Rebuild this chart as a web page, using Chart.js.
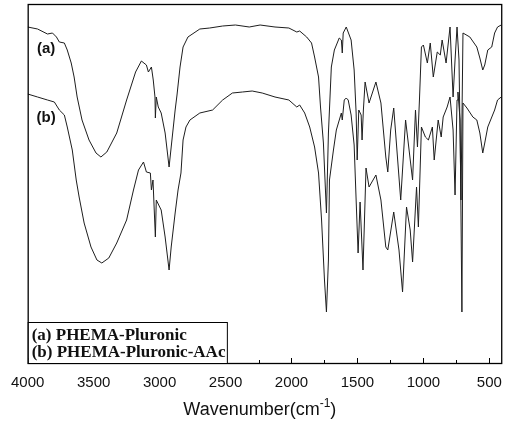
<!DOCTYPE html>
<html>
<head>
    <title>FTIR PHEMA-Pluronic</title>
    <script src="https://cdn.jsdelivr.net/npm/chart.js"></script>
    <style>
        html, body { margin: 0; padding: 0; background: #fff; }
        .chart-box { width: 513px; height: 423px; position: relative; }
    </style>
</head>
<body>
    <div class="chart-box">
        <canvas id="irChart"></canvas>
    </div>

    <script>
        // spectrum (a) PHEMA-Pluronic : wavenumber / transmittance (arbitrary units)
        const wnA = [4000, 3925, 3850, 3812, 3782, 3760, 3722, 3700, 3670, 3648, 3625, 3588, 3535, 3482, 3445, 3400, 3325, 3250, 3182, 3138,
            3100, 3085, 3062, 3048, 3035, 3032, 3025, 3010, 2988, 2958, 2928, 2912, 2882, 2868, 2845, 2822, 2785, 2695, 2620, 2522,
            2425, 2320, 2238, 2125, 2020, 1960, 1938, 1885, 1848, 1825, 1795, 1780, 1758, 1735, 1720, 1698, 1675, 1638, 1622, 1615,
            1608, 1585, 1548, 1525, 1510, 1502, 1490, 1472, 1465, 1455, 1442, 1412, 1360, 1322, 1285, 1270, 1248, 1225, 1172, 1135,
            1082, 1060, 1045, 1030, 1015, 1000, 970, 948, 925, 895, 872, 858, 828, 798, 775, 760, 745, 730, 715, 700,
            648, 595, 572, 550, 535, 512, 482, 460, 438, 410];
        const tA = [336, 334, 329, 330, 326, 321, 320, 313, 300, 286, 266, 243, 223, 210, 206, 211, 230, 263, 291, 302,
            298, 291, 296, 283, 266, 245, 266, 256, 250, 230, 196, 216, 253, 268, 296, 316, 326, 334, 335, 337,
            338, 336, 338, 336, 335, 331, 332, 326, 320, 306, 286, 256, 220, 150, 230, 296, 313, 325, 323, 310,
            330, 336, 323, 293, 250, 203, 253, 248, 223, 253, 281, 260, 281, 260, 206, 191, 233, 255, 163, 243,
            183, 253, 216, 263, 316, 318, 300, 320, 286, 311, 308, 323, 300, 336, 266, 303, 336, 303, 163, 330,
            326, 316, 305, 293, 298, 313, 316, 330, 336, 338];

        // spectrum (b) PHEMA-Pluronic-AAc
        const wnB = [4000, 3925, 3850, 3798, 3760, 3722, 3700, 3662, 3632, 3610, 3572, 3520, 3475, 3438, 3385, 3325, 3250, 3198, 3160, 3122,
            3100, 3070, 3062, 3050, 3032, 3025, 2988, 2958, 2928, 2912, 2882, 2860, 2838, 2822, 2800, 2770, 2695, 2598, 2522, 2448,
            2372, 2298, 2222, 2125, 2020, 1960, 1938, 1900, 1862, 1825, 1795, 1772, 1750, 1735, 1720, 1712, 1682, 1660, 1622, 1615,
            1600, 1585, 1570, 1548, 1525, 1510, 1495, 1480, 1458, 1435, 1412, 1360, 1322, 1285, 1270, 1225, 1185, 1158, 1128, 1100,
            1082, 1052, 1038, 1015, 985, 962, 932, 918, 888, 865, 850, 820, 798, 775, 760, 745, 738, 722, 708, 700,
            670, 625, 595, 572, 550, 535, 512, 460, 438, 410];
        const tB = [269, 266, 263, 261, 253, 248, 236, 213, 183, 166, 140, 116, 103, 100, 105, 120, 143, 173, 193, 201,
            191, 190, 173, 183, 126, 163, 153, 126, 93, 116, 150, 173, 190, 223, 236, 243, 250, 253, 263, 270,
            271, 272, 270, 266, 263, 256, 258, 250, 236, 216, 190, 143, 83, 51, 103, 183, 213, 233, 250, 243,
            263, 265, 263, 248, 218, 163, 110, 161, 93, 195, 176, 188, 163, 116, 113, 151, 113, 71, 156, 133,
            101, 176, 136, 236, 226, 223, 236, 203, 243, 226, 246, 256, 266, 233, 168, 263, 271, 243, 51, 260,
            255, 246, 243, 230, 210, 220, 236, 253, 263, 266];

        // axis ticks and texts
        const tickValues = [4000, 3500, 3000, 2500, 2000, 1500, 1000, 500];
        const minorTicks = [3750, 3250, 2750, 2250, 1750, 1250, 750];
        const legendLines = ['(a) PHEMA-Pluronic', '(b) PHEMA-Pluronic-AAc'];
        const curveTags = ['(a)', '(b)'];

        const inkColor = '#1e1e1e';

        // frame, inward ticks, curve tags, boxed legend and axis title
        const decorPlugin = {
            id: 'decor',
            afterDraw(chart) {
                const ctx = chart.ctx;
                const area = chart.chartArea;
                const xs = chart.scales.x;
                const ys = chart.scales.y;
                ctx.save();

                // frame
                ctx.strokeStyle = '#000';
                ctx.lineWidth = 1.3;
                ctx.strokeRect(area.left + 0.5, area.top + 0.5, area.right - area.left, area.bottom - area.top);

                // inward ticks on the bottom axis
                ctx.lineWidth = 1;
                tickValues.forEach(v => {
                    const px = Math.round(xs.getPixelForValue(v)) + 0.5;
                    ctx.beginPath();
                    ctx.moveTo(px, area.bottom);
                    ctx.lineTo(px, area.bottom - 5);
                    ctx.stroke();
                });
                minorTicks.forEach(v => {
                    const px = Math.round(xs.getPixelForValue(v)) + 0.5;
                    ctx.beginPath();
                    ctx.moveTo(px, area.bottom);
                    ctx.lineTo(px, area.bottom - 3);
                    ctx.stroke();
                });

                // (a) / (b) tags next to the curves
                ctx.fillStyle = '#111';
                ctx.font = 'bold 15px "Liberation Sans", Arial, sans-serif';
                ctx.textAlign = 'center';
                ctx.textBaseline = 'middle';
                ctx.fillText(curveTags[0], xs.getPixelForValue(3860), ys.getPixelForValue(314));
                ctx.fillText(curveTags[1], xs.getPixelForValue(3860), ys.getPixelForValue(245));

                // boxed legend at lower left
                const boxTop = ys.getPixelForValue(41);
                const boxRight = xs.getPixelForValue(2490);
                ctx.fillStyle = '#fff';
                ctx.fillRect(area.left + 1, boxTop, boxRight - area.left, area.bottom - boxTop);
                ctx.strokeStyle = '#000';
                ctx.lineWidth = 1;
                ctx.strokeRect(area.left + 0.5, Math.round(boxTop) + 0.5, boxRight - area.left, area.bottom - Math.round(boxTop));
                ctx.fillStyle = '#111';
                ctx.font = 'bold 17px "Liberation Serif", "Times New Roman", serif';
                ctx.textAlign = 'left';
                ctx.textBaseline = 'alphabetic';
                ctx.fillText(legendLines[0], area.left + 4, boxTop + 18);
                ctx.fillText(legendLines[1], area.left + 4, boxTop + 35);

                // axis title with superscript
                const base = 'Wavenumber(cm';
                const sup = '-1';
                const tail = ')';
                const bigFont = '18px "Liberation Sans", Arial, sans-serif';
                const smallFont = '12px "Liberation Sans", Arial, sans-serif';
                ctx.font = bigFont;
                const w1 = ctx.measureText(base).width;
                const w3 = ctx.measureText(tail).width;
                ctx.font = smallFont;
                const w2 = ctx.measureText(sup).width;
                const total = w1 + w2 + w3;
                const cx = xs.getPixelForValue(2240);
                let x0 = cx - total / 2;
                const yBase = 415;
                ctx.fillStyle = '#111';
                ctx.font = bigFont;
                ctx.fillText(base, x0, yBase);
                ctx.font = smallFont;
                ctx.fillText(sup, x0 + w1, yBase - 8);
                ctx.font = bigFont;
                ctx.fillText(tail, x0 + w1 + w2, yBase);

                ctx.restore();
            }
        };

        const ctx = document.getElementById('irChart').getContext('2d');
        new Chart(ctx, {
            type: 'line',
            data: {
                datasets: [
                    {
                        label: 'PHEMA-Pluronic',
                        data: wnA.map((w, i) => ({ x: w, y: tA[i] })),
                        borderColor: inkColor,
                        borderWidth: 1,
                        pointRadius: 0,
                        tension: 0
                    },
                    {
                        label: 'PHEMA-Pluronic-AAc',
                        data: wnB.map((w, i) => ({ x: w, y: tB[i] })),
                        borderColor: inkColor,
                        borderWidth: 1,
                        pointRadius: 0,
                        tension: 0
                    }
                ]
            },
            options: {
                responsive: true,
                maintainAspectRatio: false,
                animation: false,
                layout: {
                    padding: { left: 27, right: 6, top: 4, bottom: 0 }
                },
                plugins: {
                    legend: { display: false },
                    tooltip: { enabled: false }
                },
                scales: {
                    x: {
                        type: 'linear',
                        reverse: true,
                        min: 410,
                        max: 4000,
                        afterBuildTicks: (axis) => {
                            axis.ticks = tickValues.map(v => ({ value: v }));
                        },
                        afterFit: (axis) => {
                            axis.height = 60;
                        },
                        grid: { display: false, drawTicks: false },
                        border: { display: false },
                        ticks: {
                            color: '#111',
                            padding: 11,
                            maxRotation: 0,
                            autoSkip: false,
                            callback: (value) => String(value),
                            font: { family: '"Liberation Sans", Arial, sans-serif', size: 15 }
                        }
                    },
                    y: {
                        display: false,
                        min: 0,
                        max: 359
                    }
                }
            },
            plugins: [decorPlugin]
        });
    </script>
</body>
</html>
